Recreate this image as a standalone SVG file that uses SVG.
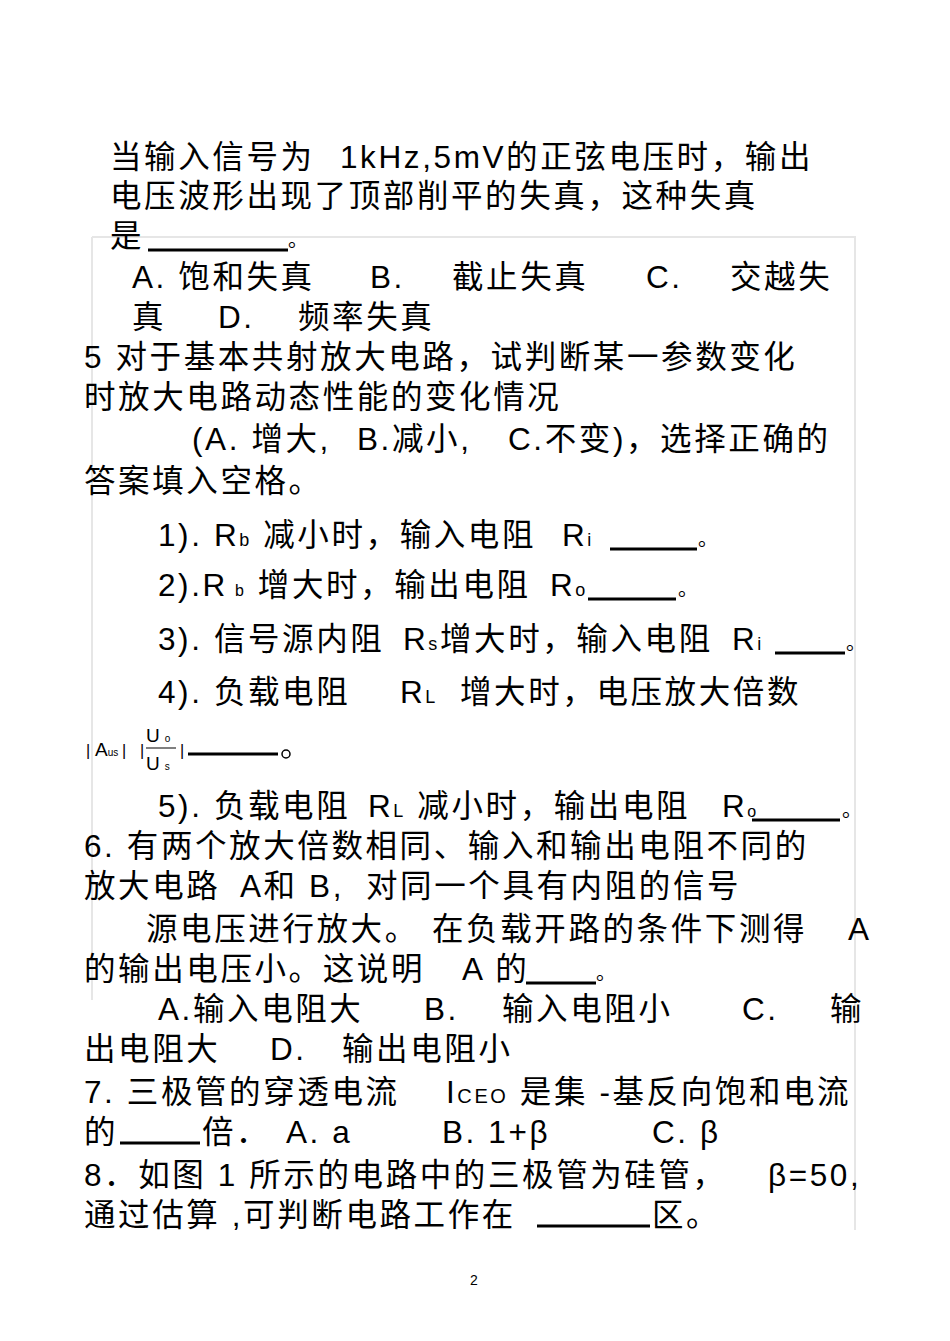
<svg xmlns="http://www.w3.org/2000/svg" width="950" height="1341" viewBox="0 0 950 1341">
<style>
text{font-family:"Liberation Sans","Noto Sans CJK SC",sans-serif;font-size:31.5px;fill:#000;letter-spacing:2.6px}
.f{letter-spacing:0}
.u{stroke:#000;stroke-width:3}
</style>
<rect width="950" height="1341" fill="#fff"/>
<path d="M92 237H855V1230" fill="none" stroke="#e6e6e6" stroke-width="2"/>
<line x1="92" y1="237" x2="92" y2="1000" stroke="#e6e6e6" stroke-width="2"/>
<g id="text">
<text x="110" y="168">当输入信号为<tspan x="340">1kHz,5mV的正弦电压时，输出</tspan></text>
<text x="110" y="207">电压波形出现了顶部削平的失真，这种失真</text>
<text x="110" y="247">是<tspan x="288" style="font-size:20px">。</tspan></text>
<line class="u" x1="148" y1="250" x2="288" y2="250"/>
<text x="132" y="288">A. 饱和失真<tspan x="370">B.</tspan><tspan x="452">截止失真</tspan><tspan x="646">C.</tspan><tspan x="730">交越失</tspan></text>
<text x="132" y="328">真<tspan x="218">D.</tspan><tspan x="298">频率失真</tspan></text>
<text x="84" y="368">5  对于基本共射放大电路，试判断某一参数变化</text>
<text x="84" y="408">时放大电路动态性能的变化情况</text>
<text x="192" y="450">(A. 增大,<tspan x="357">B.减小,</tspan><tspan x="508">C.不变)，选择正确的</tspan></text>
<text x="84" y="492">答案填入空格。</text>
<text x="158" y="546">1). R<tspan style="font-size:18px">b</tspan> 减小时，输入电阻<tspan x="562">R</tspan><tspan style="font-size:18px">i</tspan><tspan x="698" style="font-size:20px">。</tspan></text>
<line class="u" x1="610" y1="549" x2="697" y2="549"/>
<text x="158" y="596">2).R<tspan style="font-size:16px"> b</tspan> 增大时，输出电阻<tspan x="550">R</tspan><tspan style="font-size:18px">o</tspan><tspan x="678" style="font-size:20px">。</tspan></text>
<line class="u" x1="588" y1="599" x2="676" y2="599"/>
<text x="158" y="650">3). 信号源内阻<tspan x="403">R</tspan><tspan style="font-size:18px">s</tspan>增大时，输入电阻<tspan x="732">R</tspan><tspan style="font-size:18px">i</tspan><tspan x="846" style="font-size:20px">。</tspan></text>
<line class="u" x1="775" y1="653" x2="845" y2="653"/>
<text x="158" y="703">4). 负载电阻<tspan x="400">R</tspan><tspan style="font-size:18px">L</tspan><tspan x="460">增大时，电压放大倍数</tspan></text>
<text class="f" x="86" y="756" style="font-size:16px">|<tspan x="95" style="font-size:19px">A</tspan><tspan style="font-size:10px">us</tspan><tspan x="122">|</tspan><tspan x="140">|</tspan><tspan x="180">|</tspan></text>
<text class="f" x="146" y="742" style="font-size:19px">U<tspan style="font-size:10px" dx="5">o</tspan></text>
<text class="f" x="146" y="770" style="font-size:19px">U<tspan style="font-size:10px" dx="5">s</tspan></text>
<line x1="146" y1="748" x2="176" y2="748" stroke="#000" stroke-width="1"/>
<line class="u" x1="188" y1="754" x2="278" y2="754"/>
<circle cx="286" cy="754" r="4" fill="none" stroke="#000" stroke-width="1.5"/>
<text x="158" y="817">5). 负载电阻<tspan x="368">R</tspan><tspan style="font-size:18px">L</tspan> 减小时，输出电阻<tspan x="722">R</tspan><tspan style="font-size:16px">o</tspan><tspan x="842" style="font-size:20px">。</tspan></text>
<line class="u" x1="752" y1="820" x2="840" y2="820"/>
<text x="84" y="857">6. 有两个放大倍数相同、输入和输出电阻不同的</text>
<text x="84" y="897">放大电路<tspan x="240">A和 B,</tspan><tspan x="366">对同一个具有内阻的信号</tspan></text>
<text x="146" y="940">源电压进行放大。<tspan x="432">在负载开路的条件下测得</tspan><tspan x="848">A</tspan></text>
<text x="84" y="980">的输出电压小。这说明<tspan x="462">A 的</tspan><tspan x="596" style="font-size:20px">。</tspan></text>
<line class="u" x1="526" y1="983" x2="596" y2="983"/>
<text x="158" y="1020">A.输入电阻大<tspan x="424">B.</tspan><tspan x="502">输入电阻小</tspan><tspan x="742">C.</tspan><tspan x="830">输</tspan></text>
<text x="84" y="1060">出电阻大<tspan x="270">D.</tspan><tspan x="342">输出电阻小</tspan></text>
<text x="84" y="1103">7.  三极管的穿透电流<tspan x="446">I</tspan><tspan style="font-size:20px">CEO</tspan> 是集 -基反向饱和电流</text>
<text x="84" y="1143">的<tspan x="202">倍．</tspan><tspan x="286">A. a</tspan><tspan x="442">B. 1+β</tspan><tspan x="652">C.  β</tspan></text>
<line class="u" x1="120" y1="1143" x2="200" y2="1143"/>
<text x="84" y="1186">8．如图 1 所示的电路中的三极管为硅管，<tspan x="768">β=50,</tspan></text>
<text x="84" y="1226">通过估算 ,可判断电路工作在<tspan x="652">区。</tspan></text>
<line class="u" x1="537" y1="1226" x2="650" y2="1226"/>
<text class="f" x="470" y="1285" style="font-size:14px">2</text>
</g>
</svg>
